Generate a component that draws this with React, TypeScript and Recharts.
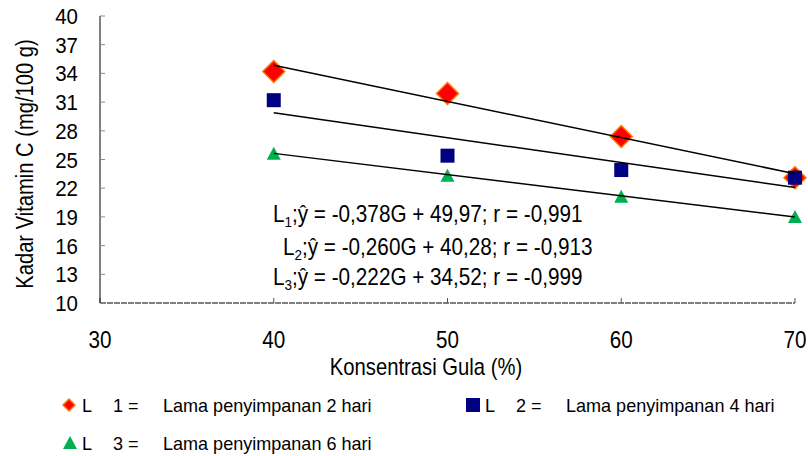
import React from "react";
import { ScatterChart, Scatter, XAxis, YAxis, Label } from "recharts";

// sugar concentration (%)
const concentrations = [40, 50, 60, 70];

// vitamin C (mg/100 g) per storage time
const l1Values = [34.2, 31.9, 27.4, 23.1];
const l2Values = [31.2, 25.4, 23.9, 23.1];
const l3Values = [25.6, 23.3, 21.1, 19.0];

// regression line ends, read at G = 40 and G = 70
const trendX = [40, 70];
const l1Trend = [34.85, 23.51];
const l2Trend = [29.88, 22.08];
const l3Trend = [25.64, 18.98];

const xTicks = [30, 40, 50, 60, 70];
const yTicks = [10, 13, 16, 19, 22, 25, 28, 31, 34, 37, 40];

const equations = [
	{ sub: "1", text: ";ŷ = -0,378G + 49,97; r = -0,991" },
	{ sub: "2", text: ";ŷ = -0,260G + 40,28; r = -0,913" },
	{ sub: "3", text: ";ŷ = -0,222G + 34,52; r = -0,999" },
];

const legendItems = [
	{ key: "1", label: "Lama penyimpanan 2 hari" },
	{ key: "2", label: "Lama penyimpanan 4 hari" },
	{ key: "3", label: "Lama penyimpanan 6 hari" },
];

const FONT = "'Liberation Sans', Arial, sans-serif";

const toPoints = (xs: number[], ys: number[]) => xs.map((x, i) => ({ x, y: ys[i] }));

// the source uses a condensed face, so squeeze regular Liberation Sans
function Narrow({ x, y, sx = 0.85, size, anchor = "start", rotate = 0, children, ...rest }: any) {
	return (
		<g transform={`translate(${x},${y}) rotate(${rotate}) scale(${sx},1)`}>
			<text x={0} y={0} textAnchor={anchor} fontFamily={FONT} fontSize={size} fill="#000" {...rest}>
				{children}
			</text>
		</g>
	);
}

const YTick = ({ x, y, payload }: any) => (
	<Narrow x={x} y={y + 8} size={22} sx={0.93} anchor="end">
		{payload.value}
	</Narrow>
);

const XTick = ({ x, y, payload }: any) => (
	<Narrow x={x} y={y + 17} size={24} sx={0.86} anchor="middle">
		{payload.value}
	</Narrow>
);

const Diamond = ({ cx, cy, r = 11 }: any) => (
	<polygon
		points={`${cx},${cy - r} ${cx + r},${cy} ${cx},${cy + r} ${cx - r},${cy}`}
		fill="#FF0000"
		stroke="#FF7A00"
		strokeWidth={1.5}
	/>
);

const Square = ({ cx, cy, r = 7 }: any) => (
	<rect x={cx - r} y={cy - r} width={r * 2} height={r * 2} fill="#000080" />
);

const Triangle = ({ cx, cy, r = 7 }: any) => (
	<polygon points={`${cx},${cy - r} ${cx + r},${cy + r - 1} ${cx - r},${cy + r - 1}`} fill="#00B050" />
);

const NoDot = () => <g />;

const YTitle = () => (
	<Narrow x={33} y={164} rotate={-90} size={24} sx={0.84} anchor="middle">
		Kadar Vitamin C (mg/100 g)
	</Narrow>
);

const XTitle = () => (
	<Narrow x={426} y={375} size={23} sx={0.88} anchor="middle">
		Konsentrasi Gula (%)
	</Narrow>
);

export default function App() {
	return (
		<div style={{ position: "absolute", left: 0, top: 0, width: 808, height: 456, background: "#fff" }}>
			<ScatterChart width={808} height={456} margin={{ top: 16, right: 13, bottom: 83, left: 0 }}>
				<XAxis
					type="number"
					dataKey="x"
					domain={[30, 70]}
					ticks={xTicks}
					height={70}
					tickSize={-5}
					tickMargin={33}
					axisLine={{ stroke: "#000", strokeDasharray: "6 1" }}
					tickLine={{ stroke: "#555" }}
					tick={<XTick />}
				>
					<Label content={<XTitle />} />
				</XAxis>
				<YAxis
					type="number"
					dataKey="y"
					domain={[10, 40]}
					ticks={yTicks}
					width={100}
					tickSize={-5}
					tickMargin={27}
					axisLine={{ stroke: "#000" }}
					tickLine={{ stroke: "#888" }}
					tick={<YTick />}
				>
					<Label content={<YTitle />} />
				</YAxis>
				<Scatter data={toPoints(concentrations, l1Values)} shape={<Diamond />} isAnimationActive={false} />
				<Scatter data={toPoints(concentrations, l2Values)} shape={<Square />} isAnimationActive={false} />
				<Scatter data={toPoints(concentrations, l3Values)} shape={<Triangle />} isAnimationActive={false} />
				<Scatter
					data={toPoints(trendX, l1Trend)}
					line={{ stroke: "#000", strokeWidth: 1.5 }}
					shape={<NoDot />}
					isAnimationActive={false}
				/>
				<Scatter
					data={toPoints(trendX, l2Trend)}
					line={{ stroke: "#000", strokeWidth: 1.5 }}
					shape={<NoDot />}
					isAnimationActive={false}
				/>
				<Scatter
					data={toPoints(trendX, l3Trend)}
					line={{ stroke: "#000", strokeWidth: 1.5 }}
					shape={<NoDot />}
					isAnimationActive={false}
				/>
			</ScatterChart>

			<svg width={808} height={456} style={{ position: "absolute", left: 0, top: 0, pointerEvents: "none" }}>
				{/* regression equations */}
				{equations.map((eq, i) => (
					<Narrow key={eq.sub} x={[273, 283, 273][i]} y={[222, 255, 285][i]} size={23} sx={0.9}>
						L
						<tspan fontSize={15} dy={5}>
							{eq.sub}
						</tspan>
						<tspan dy={-5}>{eq.text}</tspan>
					</Narrow>
				))}

				{/* legend */}
				{legendItems.map((item, i) => {
					const lx = [63, 466, 63][i];
					const ly = [405, 405, 443][i];
					return (
						<g key={item.key}>
							{i === 0 && <Diamond cx={lx + 6} cy={ly} r={6} />}
							{i === 1 && <Square cx={lx + 7} cy={ly} r={7} />}
							{i === 2 && <Triangle cx={lx + 7} cy={ly} r={7} />}
							<Narrow x={lx + 19} y={ly + 7} size={19} sx={0.95}>L</Narrow>
							<Narrow x={lx + 50} y={ly + 7} size={19} sx={0.95}>{`${item.key} =`}</Narrow>
							<Narrow x={lx + 100} y={ly + 7} size={19} sx={0.95}>{item.label}</Narrow>
						</g>
					);
				})}
			</svg>
		</div>
	);
}
